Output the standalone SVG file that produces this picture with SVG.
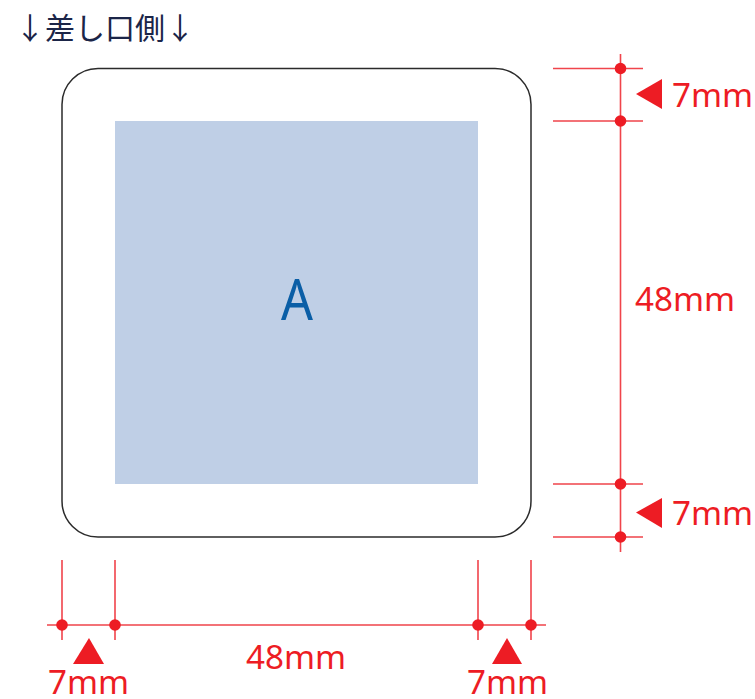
<svg xmlns="http://www.w3.org/2000/svg" width="755" height="699" viewBox="0 0 755 699">
<style>
.dim{stroke:#f0444b;stroke-width:1.6;fill:none}
.dot{fill:#ed1c24}
.t{font-family:"Noto Sans","Open Sans",sans-serif;font-size:33.200px;fill:#ed1c24}
</style>
<rect width="755" height="699" fill="#fff"/>
<g id="caption"><text x="15" y="39" font-family="'Noto Sans CJK JP',sans-serif" font-size="30" fill="#1b2548">↓差し口側↓</text></g>
<g id="outer"><rect x="62" y="68.500" width="469" height="468.500" rx="36" ry="36" fill="#fff" stroke="#2b2b2b" stroke-width="1.500"/></g>
<g id="area-a"><rect x="115" y="121" width="363" height="363" fill="#bfcfe6"/>
<text x="281" y="320" textLength="32" lengthAdjust="spacingAndGlyphs" font-family="'Noto Sans','Open Sans',sans-serif" font-size="56" fill="#0a5ea6">A</text></g>
<g id="connectors">
<path class="dim" d="M553 68.500H643M553 121H643M553 484H643M553 537H643M620.500 54V552"/>
<path class="dim" d="M47 625H546M62 560V640M115 560V640M478 560V640M531 560V640"/>
</g>
<g id="dots">
<circle class="dot" cx="620.500" cy="68.500" r="5.800"/><circle class="dot" cx="620.500" cy="121" r="5.800"/>
<circle class="dot" cx="620.500" cy="484" r="5.800"/><circle class="dot" cx="620.500" cy="537" r="5.800"/>
<circle class="dot" cx="62" cy="625" r="5.800"/><circle class="dot" cx="115" cy="625" r="5.800"/>
<circle class="dot" cx="478" cy="625" r="5.800"/><circle class="dot" cx="531" cy="625" r="5.800"/>
</g>
<g id="arrows" class="dot">
<polygon points="636,94 662,79 662,109"/>
<polygon points="636,512.500 662,498 662,528"/>
<polygon points="89,638 73,664 104,664"/>
<polygon points="507,638 492,664 522,664"/>
</g>
<g id="labels">
<text class="t" x="672" y="107">7mm</text>
<text class="t" x="635" y="311">48mm</text>
<text class="t" x="672" y="525">7mm</text>
<text class="t" x="246" y="669">48mm</text>
<text class="t" x="48" y="694">7mm</text>
<text class="t" x="467" y="694">7mm</text>
</g>
</svg>
